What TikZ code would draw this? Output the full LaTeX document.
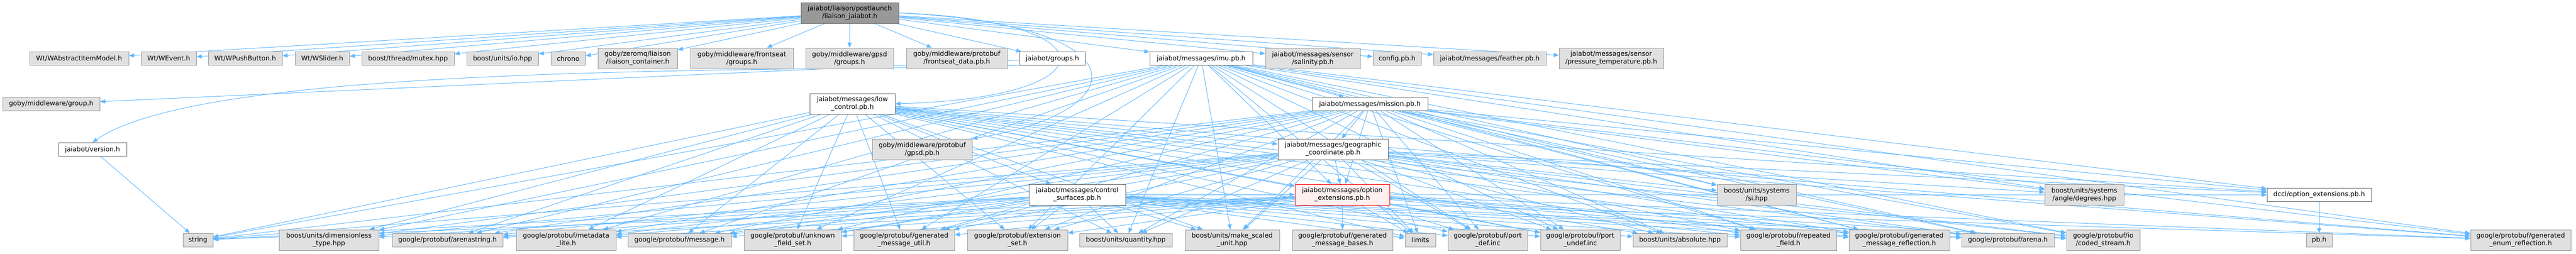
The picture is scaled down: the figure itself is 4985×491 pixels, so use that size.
\documentclass[tikz,border=0pt]{standalone}
\usepackage{fontspec}
\setmainfont{DejaVu Sans}
\usetikzlibrary{arrows.meta, backgrounds}
\definecolor{edgeblue}{HTML}{63B8FF}
\definecolor{extfill}{HTML}{E0E0E0}
\definecolor{extline}{HTML}{999999}
\definecolor{docline}{HTML}{666666}
\definecolor{rootfill}{HTML}{999999}
\definecolor{cutfill}{HTML}{FFF0F0}
\newcommand{\nodefont}{\fontsize{12.7}{15}\selectfont}
\tikzstyle{ext_node} = [
    rectangle,
    draw=extline,
    fill=extfill,
    line width=1pt,
    align=center,
    inner sep=0pt, % boxes get their width from the node
    font=\nodefont,
    minimum height=26pt
]
\tikzstyle{doc_node} = [ext_node, draw=docline, fill=white]
\tikzstyle{root_node} = [ext_node, draw=docline, fill=rootfill]
\tikzstyle{cut_node} = [ext_node, draw=red, fill=cutfill]
\tikzstyle{two_line} = [minimum height=40pt]
\tikzstyle{dep_edge} = [
    draw=edgeblue,
    line width=1pt,
    -{Triangle[length=10pt, width=8pt]}
]
\def\pbheaders{string, limits, port_def, port_undef, coded, arena, arenastring, gen_util, metadata, gen_refl, message, repeated, ext_set, enum_refl, unknown}

\begin{document}
\begin{tikzpicture}[x=1pt, y=-1pt]
\useasboundingbox (0,0) rectangle (4985,491);
% top
\node [root_node, two_line, minimum width=189pt] (root) at (1644.5,25) {jaiabot/liaison/postlaunch\\/liaison\_jaiabot.h};
% first row
\node [ext_node, minimum width=192pt] (wt_model) at (153,113.5) {Wt/WAbstractItemModel.h};
\node [ext_node, minimum width=107pt] (wt_event) at (326.5,113.5) {Wt/WEvent.h};
\node [ext_node, minimum width=143pt] (wt_button) at (474.5,113.5) {Wt/WPushButton.h};
\node [ext_node, minimum width=105pt] (wt_slider) at (623.5,113.5) {Wt/WSlider.h};
\node [ext_node, minimum width=179pt] (mutex) at (789.5,113.5) {boost/thread/mutex.hpp};
\node [ext_node, minimum width=139pt] (units_io) at (972.5,113.5) {boost/units/io.hpp};
\node [ext_node, minimum width=67pt] (chrono) at (1099.5,113.5) {chrono};
\node [ext_node, two_line, minimum width=154pt] (liaison_cont) at (1234,113) {goby/zeromq/liaison\\/liaison\_container.h};
\node [ext_node, two_line, minimum width=199pt] (fs_groups) at (1435.5,113) {goby/middleware/frontseat\\/groups.h};
\node [ext_node, two_line, minimum width=170pt] (gpsd_groups) at (1644,113) {goby/middleware/gpsd\\/groups.h};
\node [ext_node, two_line, minimum width=195pt] (fs_data) at (1851.5,113) {goby/middleware/protobuf\\/frontseat\_data.pb.h};
\node [doc_node, minimum width=127pt] (groups) at (2036.5,113.5) {jaiabot/groups.h};
\node [doc_node, minimum width=199pt] (imu) at (2324.5,113.5) {jaiabot/messages/imu.pb.h};
\node [ext_node, two_line, minimum width=183pt] (salinity) at (2540.5,113) {jaiabot/messages/sensor\\/salinity.pb.h};
\node [ext_node, minimum width=93pt] (config) at (2703.5,113.5) {config.pb.h};
\node [ext_node, minimum width=218pt] (feather) at (2883,113.5) {jaiabot/messages/feather.pb.h};
\node [ext_node, two_line, minimum width=202pt] (pressure) at (3118,113) {jaiabot/messages/sensor\\/pressure\_temperature.pb.h};
% second row
\node [ext_node, minimum width=188pt] (group) at (99,201) {goby/middleware/group.h};
\node [doc_node, two_line, minimum width=165pt] (low_control) at (1649.5,201) {jaiabot/messages/low\\\_control.pb.h};
\node [doc_node, minimum width=224pt] (mission) at (2651,201.5) {jaiabot/messages/mission.pb.h};
% third row
\node [doc_node, minimum width=132pt] (version) at (179,289.5) {jaiabot/version.h};
\node [ext_node, two_line, minimum width=193pt] (gpsd) at (1784.5,289) {goby/middleware/protobuf\\/gpsd.pb.h};
\node [doc_node, two_line, minimum width=213pt] (geo) at (2579.5,289) {jaiabot/messages/geographic\\\_coordinate.pb.h};
% fourth row
\node [doc_node, two_line, minimum width=187pt] (ctrl_surf) at (2084.5,377) {jaiabot/messages/control\\\_surfaces.pb.h};
\node [cut_node, two_line, minimum width=183pt] (opt_ext) at (2597.5,377) {jaiabot/messages/option\\\_extensions.pb.h};
\node [ext_node, two_line, minimum width=153pt] (si) at (3399.5,377) {boost/units/systems\\/si.hpp};
\node [ext_node, two_line, minimum width=153pt] (degrees) at (4033.5,377) {boost/units/systems\\/angle/degrees.hpp};
\node [doc_node, minimum width=202pt] (dccl) at (4488,377.5) {dccl/option\_extensions.pb.h};
% bottom row
\node [ext_node, minimum width=58pt] (string) at (383,465) {string};
\node [ext_node, two_line, minimum width=193pt] (dimless) at (636.5,465) {boost/units/dimensionless\\\_type.hpp};
\node [ext_node, minimum width=214pt] (arenastring) at (866,465) {google/protobuf/arenastring.h};
\node [ext_node, two_line, minimum width=193pt] (metadata) at (1095.5,465) {google/protobuf/metadata\\\_lite.h};
\node [ext_node, minimum width=200pt] (message) at (1315,465) {google/protobuf/message.h};
\node [ext_node, two_line, minimum width=188pt] (unknown) at (1534,465) {google/protobuf/unknown\\\_field\_set.h};
\node [ext_node, two_line, minimum width=195pt] (gen_util) at (1749.5,465) {google/protobuf/generated\\\_message\_util.h};
\node [ext_node, two_line, minimum width=194pt] (ext_set) at (1969,465) {google/protobuf/extension\\\_set.h};
\node [ext_node, minimum width=179pt] (quantity) at (2178.5,465) {boost/units/quantity.hpp};
\node [ext_node, two_line, minimum width=183pt] (make_scaled) at (2384.5,465) {boost/units/make\_scaled\\\_unit.hpp};
\node [ext_node, two_line, minimum width=194pt] (gen_bases) at (2598,465) {google/protobuf/generated\\\_message\_bases.h};
\node [ext_node, minimum width=59pt] (limits) at (2748.5,465) {limits};
\node [ext_node, two_line, minimum width=154pt] (port_def) at (2879,465) {google/protobuf/port\\\_def.inc};
\node [ext_node, two_line, minimum width=154pt] (port_undef) at (3058,465) {google/protobuf/port\\\_undef.inc};
\node [ext_node, minimum width=182pt] (absolute) at (3251,465) {boost/units/absolute.hpp};
\node [ext_node, two_line, minimum width=186pt] (repeated) at (3461,465) {google/protobuf/repeated\\\_field.h};
\node [ext_node, two_line, minimum width=195pt] (gen_refl) at (3675.5,465) {google/protobuf/generated\\\_message\_reflection.h};
\node [ext_node, minimum width=179pt] (arena) at (3885.5,465) {google/protobuf/arena.h};
\node [ext_node, two_line, minimum width=142pt] (coded) at (4070,465) {google/protobuf/io\\/coded\_stream.h};
\node [ext_node, minimum width=50pt] (pb) at (4488,465) {pb.h};
\node [ext_node, two_line, minimum width=194pt] (enum_refl) at (4878,465) {google/protobuf/generated\\\_enum\_reflection.h};

\begin{scope}[on background layer]
% includes of the top file
\foreach \dst in {wt_model, wt_event, wt_button, wt_slider, mutex, units_io, chrono, liaison_cont, fs_groups, gpsd_groups, fs_data, groups, imu, salinity, config, feather, pressure}
    \draw [dep_edge] (root) -- (\dst);
\draw [dep_edge] (root.east) .. controls (2160,40) and (2150,190) .. (low_control.east);
\draw [dep_edge] (root.east) .. controls (2230,50) and (2190,220) .. (gpsd.north east);
% groups and version
\draw [dep_edge] (groups) -- (group);
\draw [dep_edge] (groups.south west) .. controls (1500,140) and (400,120) .. (version.north);
\draw [dep_edge] (version) -- (string);
% message files
\draw [dep_edge] (imu) -- (mission);
\draw [dep_edge] (mission) -- (geo);
\draw [dep_edge] (low_control) -- (geo);
\draw [dep_edge] (low_control) -- (ctrl_surf);
\foreach \src in {imu, low_control, mission, geo, ctrl_surf, opt_ext}
    \foreach \dst in \pbheaders
        \draw [dep_edge] (\src) -- (\dst);
\foreach \src in {imu, low_control, mission, geo, ctrl_surf}
    \foreach \dst in {quantity, absolute, dimless, make_scaled, dccl, opt_ext}
        \draw [dep_edge] (\src) -- (\dst);
\foreach \src in {imu, mission, geo}
    \foreach \dst in {si, degrees}
        \draw [dep_edge] (\src) -- (\dst);
\draw [dep_edge] (opt_ext) -- (gen_bases);
\draw [dep_edge] (dccl) -- (pb);
\end{scope}
\end{tikzpicture}
\end{document}
